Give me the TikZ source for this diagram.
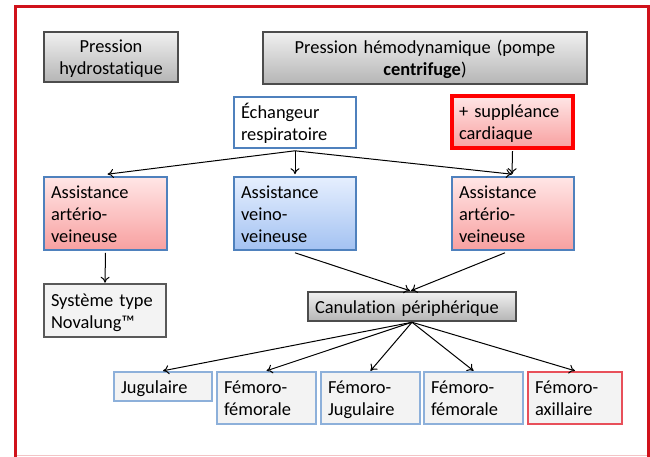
\documentclass[tikz,border=0pt]{standalone}
\usepackage{fontspec}
\setmainfont{Carlito}[Ligatures=NoCommon]
\usetikzlibrary{arrows.meta}
\definecolor{frame}{HTML}{D0121B}
\definecolor{ofblue}{HTML}{4F81BD}
\definecolor{thinblue}{HTML}{8DB0DA}
\definecolor{thinred}{HTML}{E8505A}
\definecolor{pinkT}{HTML}{FFE6E6}
\definecolor{pinkB}{HTML}{F8A0A0}
\definecolor{blueT}{HTML}{E6EFFE}
\definecolor{blueB}{HTML}{A3C2F2}
\definecolor{grayT}{HTML}{F0F0F0}
\definecolor{grayB}{HTML}{B5B5B5}
\definecolor{lightfill}{HTML}{F3F3F3}
\newcommand\tl[1]{\raisebox{-2.5pt}[\height][\depth]{\begin{tabular}{@{}l@{}}#1\end{tabular}}}
\newcommand\tc[1]{\raisebox{-2.5pt}[\height][\depth]{\begin{tabular}{@{}c@{}}#1\end{tabular}}}
\tikzset{
  base/.style={rectangle, inner xsep=7pt, inner ysep=0pt, font=\fontsize{18.4}{22}\selectfont, text=black},
  graybox/.style={base, draw=black!70, line width=1.3pt, top color=grayT, bottom color=grayB, align=center},
  pinkbox/.style={base, draw=ofblue, line width=2.8pt, top color=pinkT, bottom color=pinkB, align=left},
  bluebox/.style={base, draw=ofblue, line width=2.8pt, top color=blueT, bottom color=blueB, align=left},
  whitebox/.style={base, draw=ofblue, line width=2.8pt, fill=white, align=left},
  redbox/.style={base, draw=red, line width=3.2pt, top color=pinkT, bottom color=pinkB, align=left},
  plainbox/.style={base, draw=black!65, line width=1.3pt, fill=lightfill, align=left},
  thinblue/.style={base, draw=thinblue, line width=1.2pt, fill=lightfill, align=left},
  thinred/.style={base, draw=thinred, line width=1.2pt, fill=lightfill, align=left},
  arr/.style={-{To[length=6pt,width=9pt]}, line width=1pt, black},
}
\begin{document}
\begin{tikzpicture}[x=1pt,y=1pt]
\useasboundingbox (0,0) rectangle (650,457);
\fill[white] (0,0) rectangle (650,457);
% outer frame
\draw[frame!25, line width=1pt] (15,1) -- (648,1);
\draw[frame, line width=3pt] (15,0) -- (15,450) -- (648,450) -- (648,0);
% top row
\node[graybox, minimum width=134pt, minimum height=50pt, text width=120pt] (hydro) at (111,400) {\tc{Pression\\hydrostatique}};
\node[graybox, minimum width=324pt, minimum height=52pt, text width=310pt] (hemo) at (425,399) {\tc{Pression hémodynamique (pompe\\\textbf{centrifuge})}};
% second row
\node[whitebox, minimum width=122pt, minimum height=51pt, text width=108pt] (ech) at (295,334.5) {\tl{Échangeur\\respiratoire}};
\node[redbox, minimum width=121pt, minimum height=52pt, text width=107pt] (supp) at (512.5,335) {\tl{+ suppléance\\cardiaque}};
% third row
\node[pinkbox, minimum width=123pt, minimum height=73pt, text width=109pt] (avl) at (105.5,243.5) {\tl{Assistance\\artério-\\veineuse}};
\node[bluebox, minimum width=122pt, minimum height=73pt, text width=108pt] (vv) at (295,243.5) {\tl{Assistance\\veino-\\veineuse}};
\node[pinkbox, minimum width=122pt, minimum height=73pt, text width=108pt] (avr) at (513,243.5) {\tl{Assistance\\artério-\\veineuse}};
% fourth row
\node[plainbox, minimum width=122pt, minimum height=53pt, text width=108pt] (nova) at (105,146.5) {\tl{Système type\\Novalung™}};
\node[graybox, align=left, minimum width=208pt, minimum height=29pt, text width=194pt] (canu) at (412,150.5) {\tl{Canulation périphérique}};
% bottom row
\node[thinblue, minimum width=98pt, minimum height=29pt, text width=84pt] (jug) at (163,70.5) {\tl{Jugulaire}};
\node[thinblue, minimum width=99pt, minimum height=52pt, text width=85pt] (ff1) at (266.5,59) {\tl{Fémoro-\\fémorale}};
\node[thinblue, minimum width=99pt, minimum height=52pt, text width=85pt] (fj) at (370.5,59) {\tl{Fémoro-\\Jugulaire}};
\node[thinblue, minimum width=99pt, minimum height=52pt, text width=85pt] (ff2) at (473.5,59) {\tl{Fémoro-\\fémorale}};
\node[thinred, minimum width=94pt, minimum height=52pt, text width=80pt] (fa) at (575,59) {\tl{Fémoro-\\axillaire}};
% connectors
\coordinate (echS) at ([yshift=-1.4pt]ech.south);
\draw[arr] (echS) -- ([xshift=2pt,yshift=1.4pt]avl.north);
\draw[arr] (echS) -- ([yshift=1.4pt]vv.north);
\draw[arr] (echS) -- ([xshift=-1pt,yshift=1.4pt]avr.north);
\draw[arr] ([yshift=-1.6pt]supp.south) -- ([xshift=-1pt,yshift=1.4pt]avr.north);
\draw[arr] ([yshift=-1.4pt]avl.south) -- ([yshift=0.6pt]nova.north);
\draw[arr] ([yshift=-1.4pt]vv.south) -- ([xshift=-2pt,yshift=0.6pt]canu.north);
\draw[arr] ([xshift=-8pt,yshift=-1.4pt]avr.south) -- ([xshift=-1pt,yshift=0.6pt]canu.north);
\coordinate (canS) at ([yshift=-0.6pt]canu.south);
\draw[arr] (canS) -- ([yshift=0.6pt]jug.north);
\draw[arr] (canS) -- ([yshift=0.6pt]ff1.north);
\draw[arr] (canS) -- ([yshift=0.6pt]fj.north);
\draw[arr] (canS) -- ([yshift=0.6pt]ff2.north);
\draw[arr] (canS) -- ([yshift=0.6pt]fa.north);
\end{tikzpicture}
\end{document}
